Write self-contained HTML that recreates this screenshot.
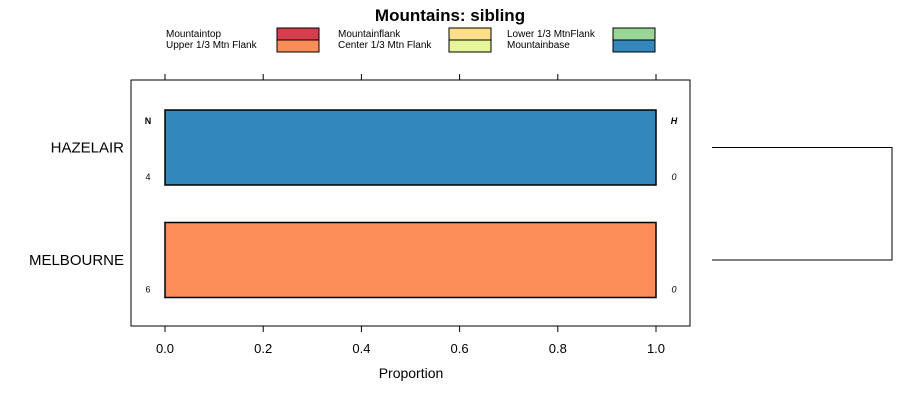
<!DOCTYPE html>
<html><head><meta charset="utf-8">
<style>
html,body{margin:0;padding:0;background:#fff;}
svg{display:block;font-family:"Liberation Sans",Arial,sans-serif;}
</style></head>
<body>
<svg id="chart" width="900" height="400" viewBox="0 0 900 400">
<text x="450" y="21" text-anchor="middle" font-size="17" font-weight="bold">Mountains: sibling</text>
<g id="legend"></g>
<rect x="131" y="80" width="559" height="246" fill="none" stroke="#000" stroke-width="1"/>
<g id="axes"></g>
<g id="bars"></g>
<text x="411" y="378" text-anchor="middle" font-size="14">Proportion</text>
<g id="dendro"></g>
</svg>
<script>
const categories = ["HAZELAIR", "MELBOURNE"];
const seriesNames = ["Mountaintop","Upper 1/3 Mtn Flank","Mountainflank","Center 1/3 Mtn Flank","Lower 1/3 MtnFlank","Mountainbase"];
const seriesColors = ["#d53e4f","#fc8d59","#fee08b","#e6f598","#99d594","#3288bd"];
const values = [
  [0,0,0,0,0,1],
  [0,1,0,0,0,0]
];
const nValues = [4, 6];
const hValues = [0, 0];
const ticks = [0, 0.2, 0.4, 0.6, 0.8, 1.0];
const tickLabels = ["0.0","0.2","0.4","0.6","0.8","1.0"];

const NS = "http://www.w3.org/2000/svg";
function mk(tag, attrs, parent, txt){const e=document.createElementNS(NS,tag);for(const k in attrs)e.setAttribute(k,attrs[k]);if(txt!==undefined)e.textContent=txt;parent.appendChild(e);return e;}
const xScale = v => 165 + v * (656 - 165);
const rowCenter = i => 147.5 + i * 112.5;
const barH = 75;

const lg = document.getElementById('legend');
const lx = [166, 338, 507], rx = [277, 449, 613];
seriesNames.forEach((s, i) => {
  const col = Math.floor(i / 2), row = i % 2;
  const t = mk('text', {x: lx[col], y: 37 + row * 11, 'font-size': 10}, lg, s);
  
  
  const r = mk('rect', {x: rx[col], y: 28 + row * 12, width: 42, height: 12, fill: seriesColors[i], stroke: '#000', 'stroke-width': 1}, lg);
  
  
});

const ax = document.getElementById('axes');
ticks.forEach((t, i) => {
  const x = xScale(t);
  const a = mk('line', {x1: x, x2: x, y1: 74, y2: 80, stroke: '#000'}, ax);
  
  
  const b = mk('line', {x1: x, x2: x, y1: 326, y2: 332, stroke: '#000'}, ax);
  
  
  const l = mk('text', {x: x, y: 353, 'text-anchor': 'middle', 'font-size': 13}, ax, tickLabels[i]);
  
  
});

const bg = document.getElementById('bars');
categories.forEach((c, i) => {
  const cy = rowCenter(i), y0 = cy - barH / 2;
  let cum = 0;
  values[i].forEach((v, j) => {
    if (v <= 0) return;
    const r = mk('rect', {x: xScale(cum), y: y0, width: xScale(cum + v) - xScale(cum), height: barH, fill: seriesColors[j], stroke: '#000', 'stroke-width': 1.5}, bg);
    
    
    cum += v;
  });
  const cl = mk('text', {x: 124, y: cy + 5, 'text-anchor': 'end', 'font-size': 15}, bg, c);
  
  
  const nl = mk('text', {x: 148, y: y0 + 70, 'text-anchor': 'middle', 'font-size': 9}, bg, String(nValues[i]));
  
  
  const hl = mk('text', {x: 674, y: y0 + 70, 'text-anchor': 'middle', 'font-size': 9, 'font-style': 'italic'}, bg, String(hValues[i]));
  
  
});
const nh = mk('text', {x: 148, y: 124, 'text-anchor': 'middle', 'font-size': 9, 'font-weight': 'bold'}, bg, 'N');


const hh = mk('text', {x: 674, y: 124, 'text-anchor': 'middle', 'font-size': 9, 'font-weight': 'bold', 'font-style': 'italic'}, bg, 'H');



const dg = document.getElementById('dendro');
const p = mk('path', {d: `M712 ${rowCenter(0)} H892 V${rowCenter(1)} H712`, fill: 'none', stroke: '#000', 'stroke-width': 1}, dg);


</script>
</body></html>
